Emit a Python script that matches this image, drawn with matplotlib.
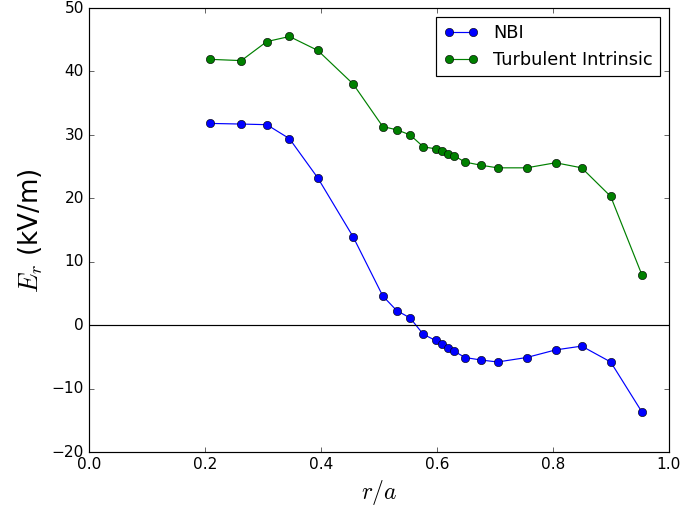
import matplotlib
matplotlib.use("Agg")
import matplotlib.pyplot as plt

plt.style.use("classic")

r_a = [0.209, 0.263, 0.307, 0.346, 0.395, 0.456, 0.507, 0.531, 0.554, 0.577, 0.598,
       0.609, 0.619, 0.630, 0.649, 0.677, 0.705, 0.755, 0.805, 0.850, 0.900, 0.954]

er_nbi = [31.8, 31.7, 31.6, 29.4, 23.2, 13.9, 4.6, 2.3, 1.15, -1.45, -2.4,
          -3.0, -3.6, -4.1, -5.1, -5.5, -5.8, -5.1, -3.9, -3.3, -5.8, -13.7]

er_turb = [41.9, 41.7, 44.7, 45.5, 43.3, 38.0, 31.3, 30.8, 30.0, 28.1, 27.8,
           27.4, 27.0, 26.7, 25.7, 25.2, 24.8, 24.8, 25.6, 24.8, 20.3, 7.9]

fig = plt.figure(figsize=(8, 6), dpi=85.375, facecolor="white")
ax = fig.add_axes([0.130, 0.117, 0.849, 0.867])

ax.plot(r_a, er_nbi, "b-o", label="NBI", markersize=7)
ax.plot(r_a, er_turb, "g-o", label="Turbulent Intrinsic", markersize=7)
ax.axhline(0, color="k", linewidth=1)

ax.set_xlim(0.0, 1.0)
ax.set_ylim(-20, 50)
ax.set_xlabel("$r/a$", fontsize=20)
ax.set_ylabel("$E_r$ (kV/m)", fontsize=22, labelpad=6)
ax.tick_params(labelsize=13)
ax.legend(loc="upper right", fontsize=15, numpoints=2)

fig.savefig("out.png", dpi=85.375, facecolor="white")
